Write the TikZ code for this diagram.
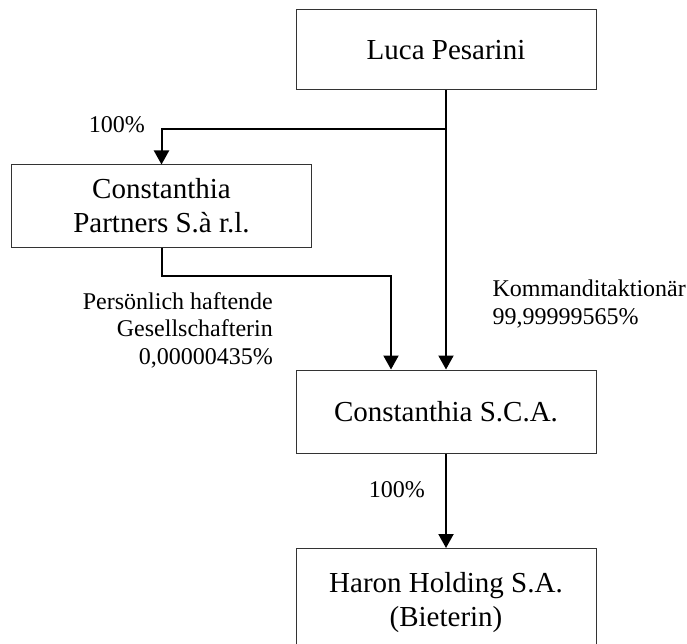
\documentclass[tikz,border=0pt]{standalone}
\usepackage{fontspec}
\setmainfont{Liberation Serif}
\usetikzlibrary{arrows.meta}
\begin{document}
\begin{tikzpicture}[x=1pt, y=-1pt,
    entity/.style={draw=black!80, line width=1pt, minimum width=300pt,
      inner sep=0pt, align=center, font=\fontsize{29}{34}\selectfont},
    share/.style={inner sep=0pt, font=\fontsize{24}{27.5}\selectfont},
    link/.style={line width=2pt, -{Triangle[length=14pt, width=15pt]}}]
    \useasboundingbox (0,0) rectangle (687,644);
    % Companies (centre positions in px of the original sheet)
    \node[entity, minimum height=80pt] (luca) at (446,50) {Luca Pesarini};
    \node[entity, minimum height=82pt] (partners) at (161.5,206)
      {Constanthia\\Partners S.\`a r.l.};
    \node[entity, minimum height=83pt] (sca) at (446,411.5) {Constanthia S.C.A.};
    % Bieterin box runs past the lower edge of the sheet
    \node[entity, minimum height=108pt, anchor=north] (haron) at (446,548)
      {Haron Holding S.A.\\(Bieterin)};
    % Shareholdings
    \coordinate (fork) at (446,129);
    \draw[link] (luca.south) -- (sca.north);
    \draw[link] (fork) -| (partners.north);
    \draw[link] (partners.south) -- ++(0,28) -| ([xshift=-55pt]sca.north);
    \draw[link] (sca.south) -- (haron.north);
    % Labels
    \node[share, anchor=base east] (ptop) at (145,133) {100\%};
    \node[share, anchor=east, align=right] (pgen) at (273,330)
      {Persönlich haftende\\Gesellschafterin\\0,00000435\%};
    \node[share, anchor=east, align=left] (pkom) at (686,304)
      {Kommanditaktionär\\99,99999565\%};
    \node[share, anchor=east] (pbot) at (425,490) {100\%};
\end{tikzpicture}
\end{document}
